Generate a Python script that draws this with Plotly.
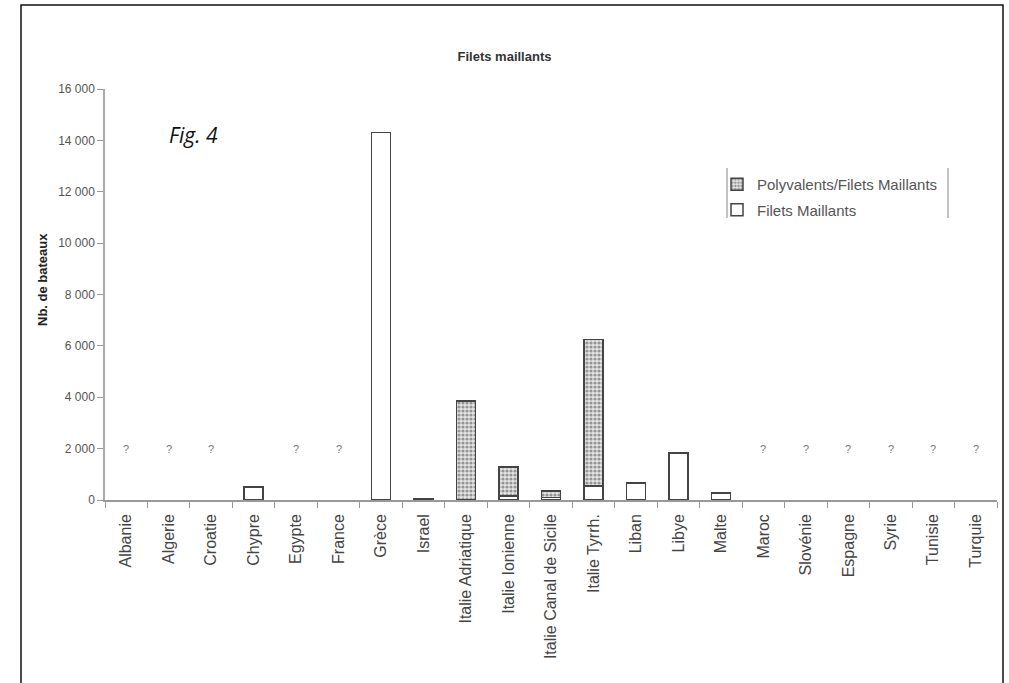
import plotly.graph_objects as go

# Gillnet fleet by country (number of boats)
countries = ["Albanie", "Algerie", "Croatie", "Chypre", "Egypte", "France", "Grèce",
             "Israel", "Italie Adriatique", "Italie Ionienne", "Italie Canal de Sicile",
             "Italie Tyrrh.", "Liban", "Libye", "Malte", "Maroc", "Slovénie", "Espagne",
             "Syrie", "Tunisie", "Turquie"]
filets_maillants = [None, None, None, 500, None, None, 14300, 60, 0, 150, 100,
                    550, 660, 1830, 270, None, None, None, None, None, None]
polyvalents = [None, None, None, None, None, None, None, None, 3850, 1130, 250,
               5700, None, None, None, None, None, None, None, None, None]
unknown = ["Albanie", "Algerie", "Croatie", "Egypte", "France", "Maroc", "Slovénie",
           "Espagne", "Syrie", "Tunisie", "Turquie"]
unknown_level = 2000
y_ticks = [0, 2000, 4000, 6000, 8000, 10000, 12000, 14000, 16000]
y_tick_text = ["0", "2 000", "4 000", "6 000", "8 000", "10 000", "12 000", "14 000", "16 000"]

W, H = 1009, 683
L, R, T, B = 105, 997, 89, 500
FONT = "Liberation Sans, Arial, sans-serif"


def px(x):
    return (x - L) / (R - L)


def py(y):
    return (B - y) / (B - T)


fig = go.Figure()
fig.add_trace(go.Bar(
    x=countries, y=filets_maillants, name="Filets Maillants",
    legendgroup="fm", legendrank=2,
    marker=dict(color="white", line=dict(color="#444", width=1.5)),
    width=0.45,
))
fig.add_trace(go.Bar(
    x=countries, y=polyvalents, name="Polyvalents/Filets Maillants",
    legendgroup="pv", legendrank=1,
    marker=dict(color="#e0e0e0", line=dict(color="#444", width=1.5),
                pattern=dict(shape=".", fgcolor="#444", bgcolor="#e4e4e4",
                             size=4, solidity=0.5)),
    width=0.45,
))

annotations = []
for c in unknown:
    annotations.append(dict(x=c, y=unknown_level, xref="x", yref="y", text="?",
                            showarrow=False, yanchor="middle",
                            font=dict(family=FONT, size=11, color="#777")))
annotations.append(dict(x=px(167), y=py(135), xref="paper", yref="paper",
                        text="<i>Fig. 4</i>", showarrow=False, xanchor="left",
                        yanchor="middle",
                        font=dict(family="Open Sans, sans-serif", size=21, color="#111")))
annotations.append(dict(x=px(42), y=py(280), xref="paper", yref="paper",
                        text="<b>Nb. de bateaux</b>", showarrow=False, textangle=-90,
                        xanchor="center", yanchor="middle",
                        font=dict(family=FONT, size=13, color="#222")))

shapes = [
    # open frame around the figure (no bottom edge)
    dict(type="path", xref="paper", yref="paper",
         path=f"M {px(21)},{py(690)} L {px(21)},{py(5)} L {px(1003)},{py(5)} L {px(1003)},{py(690)}",
         line=dict(color="#111", width=1.5)),
    # legend side rules
    dict(type="line", xref="paper", yref="paper", x0=px(727), x1=px(727),
         y0=py(168), y1=py(218), line=dict(color="#999", width=1.2)),
    dict(type="line", xref="paper", yref="paper", x0=px(948), x1=px(948),
         y0=py(168), y1=py(218), line=dict(color="#999", width=1.2)),
]

fig.update_layout(
    width=W, height=H,
    margin=dict(l=L, r=W - R, t=T, b=H - B),
    paper_bgcolor="white", plot_bgcolor="white",
    barmode="stack",
    title=dict(text="<b>Filets maillants</b>", x=0.5, xanchor="center",
               y=1 - 56 / H, yanchor="middle",
               font=dict(family=FONT, size=13, color="#333")),
    showlegend=True,
    legend=dict(x=px(717), y=py(168), xanchor="left", yanchor="top",
                traceorder="grouped", tracegroupgap=3,
                bgcolor="rgba(0,0,0,0)", itemwidth=30,
                font=dict(family=FONT, size=15, color="#555")),
    annotations=annotations,
    shapes=shapes,
    xaxis=dict(type="category", categoryorder="array", categoryarray=countries,
               tickangle=-90, tickson="boundaries", ticks="outside", ticklen=6,
               tickcolor="#999", showline=True, linecolor="#999", linewidth=1.5,
               showgrid=False, ticklabelstandoff=6,
               tickfont=dict(family=FONT, size=16, color="#444"),
               range=[-0.5, len(countries) - 0.5]),
    yaxis=dict(range=[0, 16000], tickvals=y_ticks, ticktext=y_tick_text,
               ticks="outside", ticklen=6, tickcolor="#999",
               showline=True, linecolor="#aaa", linewidth=1.5, showgrid=False,
               zeroline=False, tickfont=dict(family=FONT, size=12, color="#555")),
    bargap=0.55,
)

fig.write_html("out.html")
